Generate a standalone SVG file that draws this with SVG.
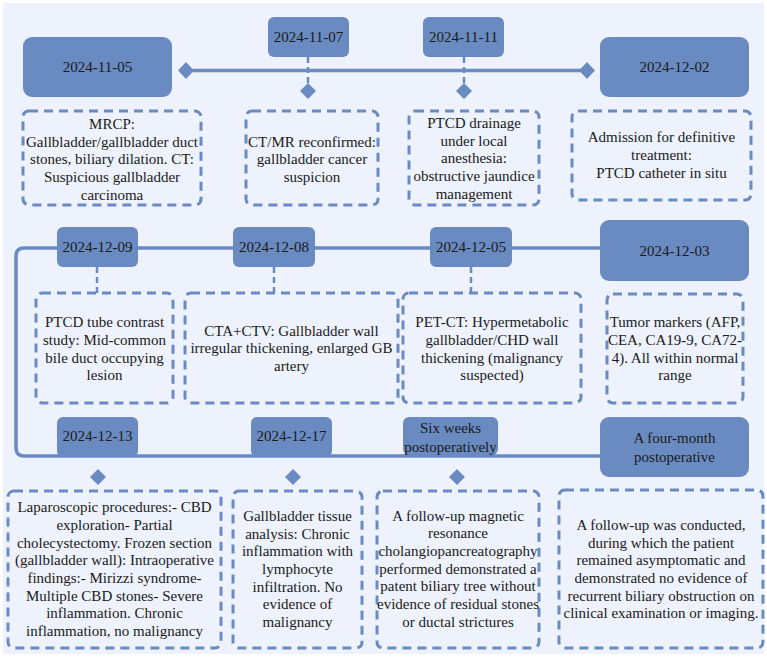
<svg xmlns="http://www.w3.org/2000/svg" width="767" height="659" viewBox="0 0 767 659" font-family="'Liberation Serif', 'DejaVu Serif', serif">
<style>
.bg{fill:#eef2fc}
.date{fill:#6a8bc1}
.note{fill:none;stroke:#6a8bc1;stroke-width:3;stroke-dasharray:9 6}
.t{font-family:'Liberation Serif', 'DejaVu Serif', serif;font-size:15px;fill:#1a1a1a;text-anchor:middle}
.line{fill:none;stroke:#6a8bc1;stroke-width:3.5}
.dash{fill:none;stroke:#6a8bc1;stroke-width:2.5;stroke-dasharray:6 4}
.dia{fill:#6a8bc1}
</style>
<rect x="0" y="0" width="767" height="659" fill="#ffffff"/>
<rect class="bg" x="3" y="3" width="761" height="651"/>
<g id="connectors">
<path class="line" d="M186 70.5 H587"/>
<path class="line" d="M600 248 H24 Q16 248 16 256 V448 Q16 456 24 456 H600"/>
<path class="dash" d="M308 57 V84"/>
<path class="dash" d="M464 57 V84"/>
<path class="dash" d="M97 267 V293"/>
<path class="dash" d="M274 267 V293"/>
<path class="dash" d="M471 267 V293"/>
<path class="dia" d="M186 62 L194 70.5 L186 79 L178 70.5 Z"/>
<path class="dia" d="M587 62 L595 70.5 L587 79 L579 70.5 Z"/>
<path class="dia" d="M308 83 L316 91 L308 99 L300 91 Z"/>
<path class="dia" d="M464 83 L472 91 L464 99 L456 91 Z"/>
<path class="dia" d="M98 469 L106 477 L98 485 L90 477 Z"/>
<path class="dia" d="M293 469 L301 477 L293 485 L285 477 Z"/>
<path class="dia" d="M457 469 L465 477 L457 485 L449 477 Z"/>
</g>
<g id="d20241105"><rect class="date" x="23" y="37" width="149" height="60" rx="9"/><text class="t" x="97.5" y="72">2024-11-05</text></g>
<g id="d20241107"><rect class="date" x="268" y="17" width="81" height="40" rx="6"/><text class="t" x="308.5" y="42">2024-11-07</text></g>
<g id="d20241111"><rect class="date" x="423" y="17" width="81" height="40" rx="6"/><text class="t" x="463.5" y="42">2024-11-11</text></g>
<g id="d20241202"><rect class="date" x="600" y="37" width="149" height="60" rx="9"/><text class="t" x="674.5" y="72">2024-12-02</text></g>
<g id="n1"><rect class="note" x="23" y="111" width="178" height="94" rx="6"/>
<text class="t" x="112"><tspan x="112" y="129">MRCP:</tspan><tspan x="112" y="146.7">Gallbladder/gallbladder duct</tspan><tspan x="112" y="164.3">stones, biliary dilation. CT:</tspan><tspan x="112" y="182">Suspicious gallbladder</tspan><tspan x="112" y="199.7">carcinoma</tspan></text></g>
<g id="n2"><rect class="note" x="246" y="111" width="132" height="94" rx="6"/>
<text class="t"><tspan x="312" y="146.7">CT/MR reconfirmed:</tspan><tspan x="312" y="164.3">gallbladder cancer</tspan><tspan x="312" y="182">suspicion</tspan></text></g>
<g id="n3"><rect class="note" x="409" y="111" width="130" height="94" rx="6"/>
<text class="t"><tspan x="474" y="128">PTCD drainage</tspan><tspan x="474" y="145.7">under local</tspan><tspan x="474" y="163.3">anesthesia:</tspan><tspan x="474" y="181">obstructive jaundice</tspan><tspan x="474" y="198.7">management</tspan></text></g>
<g id="n4"><rect class="note" x="572" y="111" width="179" height="89" rx="6"/>
<text class="t"><tspan x="661.5" y="142">Admission for definitive</tspan><tspan x="661.5" y="160">treatment:</tspan><tspan x="661.5" y="178">PTCD catheter in situ</tspan></text></g>
<g id="d20241209"><rect class="date" x="57" y="227" width="81" height="40" rx="6"/><text class="t" x="97.5" y="252">2024-12-09</text></g>
<g id="d20241208"><rect class="date" x="233" y="227" width="82" height="40" rx="6"/><text class="t" x="274" y="252">2024-12-08</text></g>
<g id="d20241205"><rect class="date" x="430" y="227" width="82" height="40" rx="6"/><text class="t" x="471" y="252">2024-12-05</text></g>
<g id="d20241203"><rect class="date" x="600" y="220" width="149" height="61" rx="9"/><text class="t" x="674.5" y="255.5">2024-12-03</text></g>
<g id="n5"><rect class="note" x="36" y="293" width="137" height="110" rx="6"/>
<text class="t"><tspan x="104.5" y="327.3">PTCD tube contrast</tspan><tspan x="104.5" y="345">study: Mid-common</tspan><tspan x="104.5" y="362.7">bile duct occupying</tspan><tspan x="104.5" y="380.3">lesion</tspan></text></g>
<g id="n6"><rect class="note" x="185" y="293" width="213" height="110" rx="6"/>
<text class="t"><tspan x="291.5" y="335.7">CTA+CTV: Gallbladder wall</tspan><tspan x="291.5" y="353.3">irregular thickening, enlarged GB</tspan><tspan x="291.5" y="371">artery</tspan></text></g>
<g id="n7"><rect class="note" x="403" y="293" width="178" height="110" rx="6"/>
<text class="t"><tspan x="492" y="327.3">PET-CT: Hypermetabolic</tspan><tspan x="492" y="345">gallbladder/CHD wall</tspan><tspan x="492" y="362.7">thickening (malignancy</tspan><tspan x="492" y="380.3">suspected)</tspan></text></g>
<g id="n8"><rect class="note" x="607" y="294" width="136" height="109" rx="6"/>
<text class="t"><tspan x="675" y="327.3">Tumor markers (AFP,</tspan><tspan x="675" y="345">CEA, CA19-9, CA72-</tspan><tspan x="675" y="362.7">4). All within normal</tspan><tspan x="675" y="380.3">range</tspan></text></g>
<g id="d20241213"><rect class="date" x="57" y="417" width="81" height="40" rx="6"/><text class="t" x="97.5" y="441">2024-12-13</text></g>
<g id="d20241217"><rect class="date" x="251" y="417" width="81" height="40" rx="6"/><text class="t" x="291.5" y="441">2024-12-17</text></g>
<g id="dsix"><rect class="date" x="403" y="417" width="95" height="38" rx="6"/><text class="t"><tspan x="450.5" y="433.3">Six weeks</tspan><tspan x="450.5" y="451.7">postoperatively</tspan></text></g>
<g id="dfour"><rect class="date" x="600" y="417" width="149" height="60" rx="9"/><text class="t"><tspan x="674.5" y="443.3">A four-month</tspan><tspan x="674.5" y="461.7">postoperative</tspan></text></g>
<g id="n9"><rect class="note" x="8" y="491" width="213" height="157" rx="6"/>
<text class="t"><tspan x="114.5" y="512.3">Laparoscopic procedures:- CBD</tspan><tspan x="114.5" y="530">exploration- Partial</tspan><tspan x="114.5" y="547.7">cholecystectomy. Frozen section</tspan><tspan x="114.5" y="565.3">(gallbladder wall): Intraoperative</tspan><tspan x="114.5" y="583">findings:- Mirizzi syndrome-</tspan><tspan x="114.5" y="600.7">Multiple CBD stones- Severe</tspan><tspan x="114.5" y="618.3">inflammation. Chronic</tspan><tspan x="114.5" y="636">inflammation, no malignancy</tspan></text></g>
<g id="n10"><rect class="note" x="233" y="491" width="129" height="157" rx="6"/>
<text class="t"><tspan x="297.5" y="521">Gallbladder tissue</tspan><tspan x="297.5" y="538.7">analysis: Chronic</tspan><tspan x="297.5" y="556.3">inflammation with</tspan><tspan x="297.5" y="574">lymphocyte</tspan><tspan x="297.5" y="591.7">infiltration. No</tspan><tspan x="297.5" y="609.3">evidence of</tspan><tspan x="297.5" y="627">malignancy</tspan></text></g>
<g id="n11"><rect class="note" x="377" y="491" width="162" height="157" rx="6"/>
<text class="t"><tspan x="458" y="520.7">A follow-up magnetic</tspan><tspan x="458" y="538.3">resonance</tspan><tspan x="458" y="556">cholangiopancreatography</tspan><tspan x="458" y="573.7">performed demonstrated a</tspan><tspan x="458" y="591.3">patent biliary tree without</tspan><tspan x="458" y="609">evidence of residual stones</tspan><tspan x="458" y="626.7">or ductal strictures</tspan></text></g>
<g id="n12"><rect class="note" x="559" y="490" width="204" height="158" rx="6"/>
<text class="t"><tspan x="661" y="530">A follow-up was conducted,</tspan><tspan x="661" y="547.7">during which the patient</tspan><tspan x="661" y="565.3">remained asymptomatic and</tspan><tspan x="661" y="583">demonstrated no evidence of</tspan><tspan x="661" y="600.7">recurrent biliary obstruction on</tspan><tspan x="661" y="618.3">clinical examination or imaging.</tspan></text></g>
</svg>
